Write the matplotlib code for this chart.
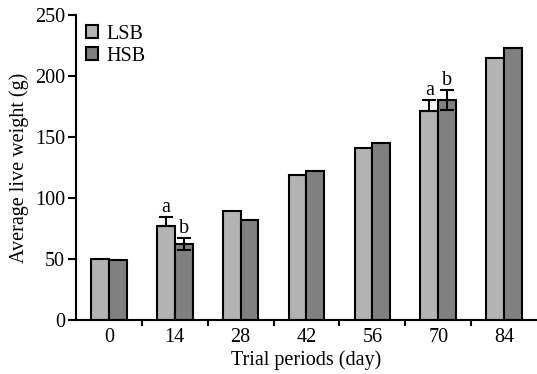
import numpy as np
from matplotlib import pyplot as plt

plt.rcParams['font.family'] = ['Liberation Serif', 'DejaVu Serif']

days = ['0', '14', '28', '42', '56', '70', '84']
lsb = [50, 77, 89, 119, 141, 171, 215]
hsb = [49, 62, 82, 122, 145, 180, 223]
# error bars only shown where letters are drawn
lsb_err = [0, 7, 0, 0, 0, 9, 0]
hsb_err = [0, 5, 0, 0, 0, 8, 0]
lsb_mark = ['', 'a', '', '', '', 'a', '']
hsb_mark = ['', 'b', '', '', '', 'b', '']

FS = 14.5

fig = plt.figure(figsize=(5.37, 3.74), dpi=100)
ax = fig.add_axes([0.1415, 0.1444, 0.8585, 0.816])

x = np.arange(len(days))
w = 0.27
ax.bar(x - w/2, lsb, w, color='#b3b3b3', edgecolor='k', linewidth=1.5, label='LSB', zorder=2)
ax.bar(x + w/2, hsb, w, color='#808080', edgecolor='k', linewidth=1.5, label='HSB', zorder=2)

for i in range(len(days)):
    if lsb_err[i]:
        ax.errorbar(x[i] - w/2, lsb[i], yerr=[[0], [lsb_err[i]]], fmt='none', ecolor='k',
                    elinewidth=1.5, capsize=5, capthick=1.5, zorder=3)
    if hsb_err[i]:
        ax.errorbar(x[i] + w/2, hsb[i], yerr=hsb_err[i], fmt='none', ecolor='k',
                    elinewidth=1.5, capsize=5, capthick=1.5, zorder=3)
    if lsb_mark[i]:
        ax.text(x[i] - w/2, lsb[i] + lsb_err[i] + 0.5, lsb_mark[i], ha='center', va='bottom', fontsize=FS)
    if hsb_mark[i]:
        ax.text(x[i] + w/2, hsb[i] + hsb_err[i] + 0.5, hsb_mark[i], ha='center', va='bottom', fontsize=FS)

ax.set_xlim(-0.5, 6.5)
ax.set_ylim(0, 250)
ax.set_yticks(np.arange(0, 251, 50))
ax.set_xticks(x)
ax.set_xticklabels(days)
ax.set_xticks(np.arange(0.5, 6, 1), minor=True)
ax.tick_params(axis='x', which='major', length=0, labelsize=FS, pad=6)
ax.tick_params(axis='x', which='minor', length=4, width=1.5, direction='out')
ax.tick_params(axis='y', which='major', length=6, width=1.5, labelsize=FS, pad=2)

for s in ['top', 'right']:
    ax.spines[s].set_visible(False)
for s in ['left', 'bottom']:
    ax.spines[s].set_linewidth(1.5)

ax.set_xlabel('Trial periods (day)', fontsize=FS, labelpad=2)
ax.set_ylabel('Average live weight (g)', fontsize=FS, labelpad=4)

ax.legend(loc='upper left', bbox_to_anchor=(0.0, 1.0), frameon=False, fontsize=FS,
          handlelength=0.6, handleheight=0.6, handletextpad=0.4, labelspacing=0.15,
          borderaxespad=0.1)

plt.savefig('out.png', dpi=100)
plt.close()
